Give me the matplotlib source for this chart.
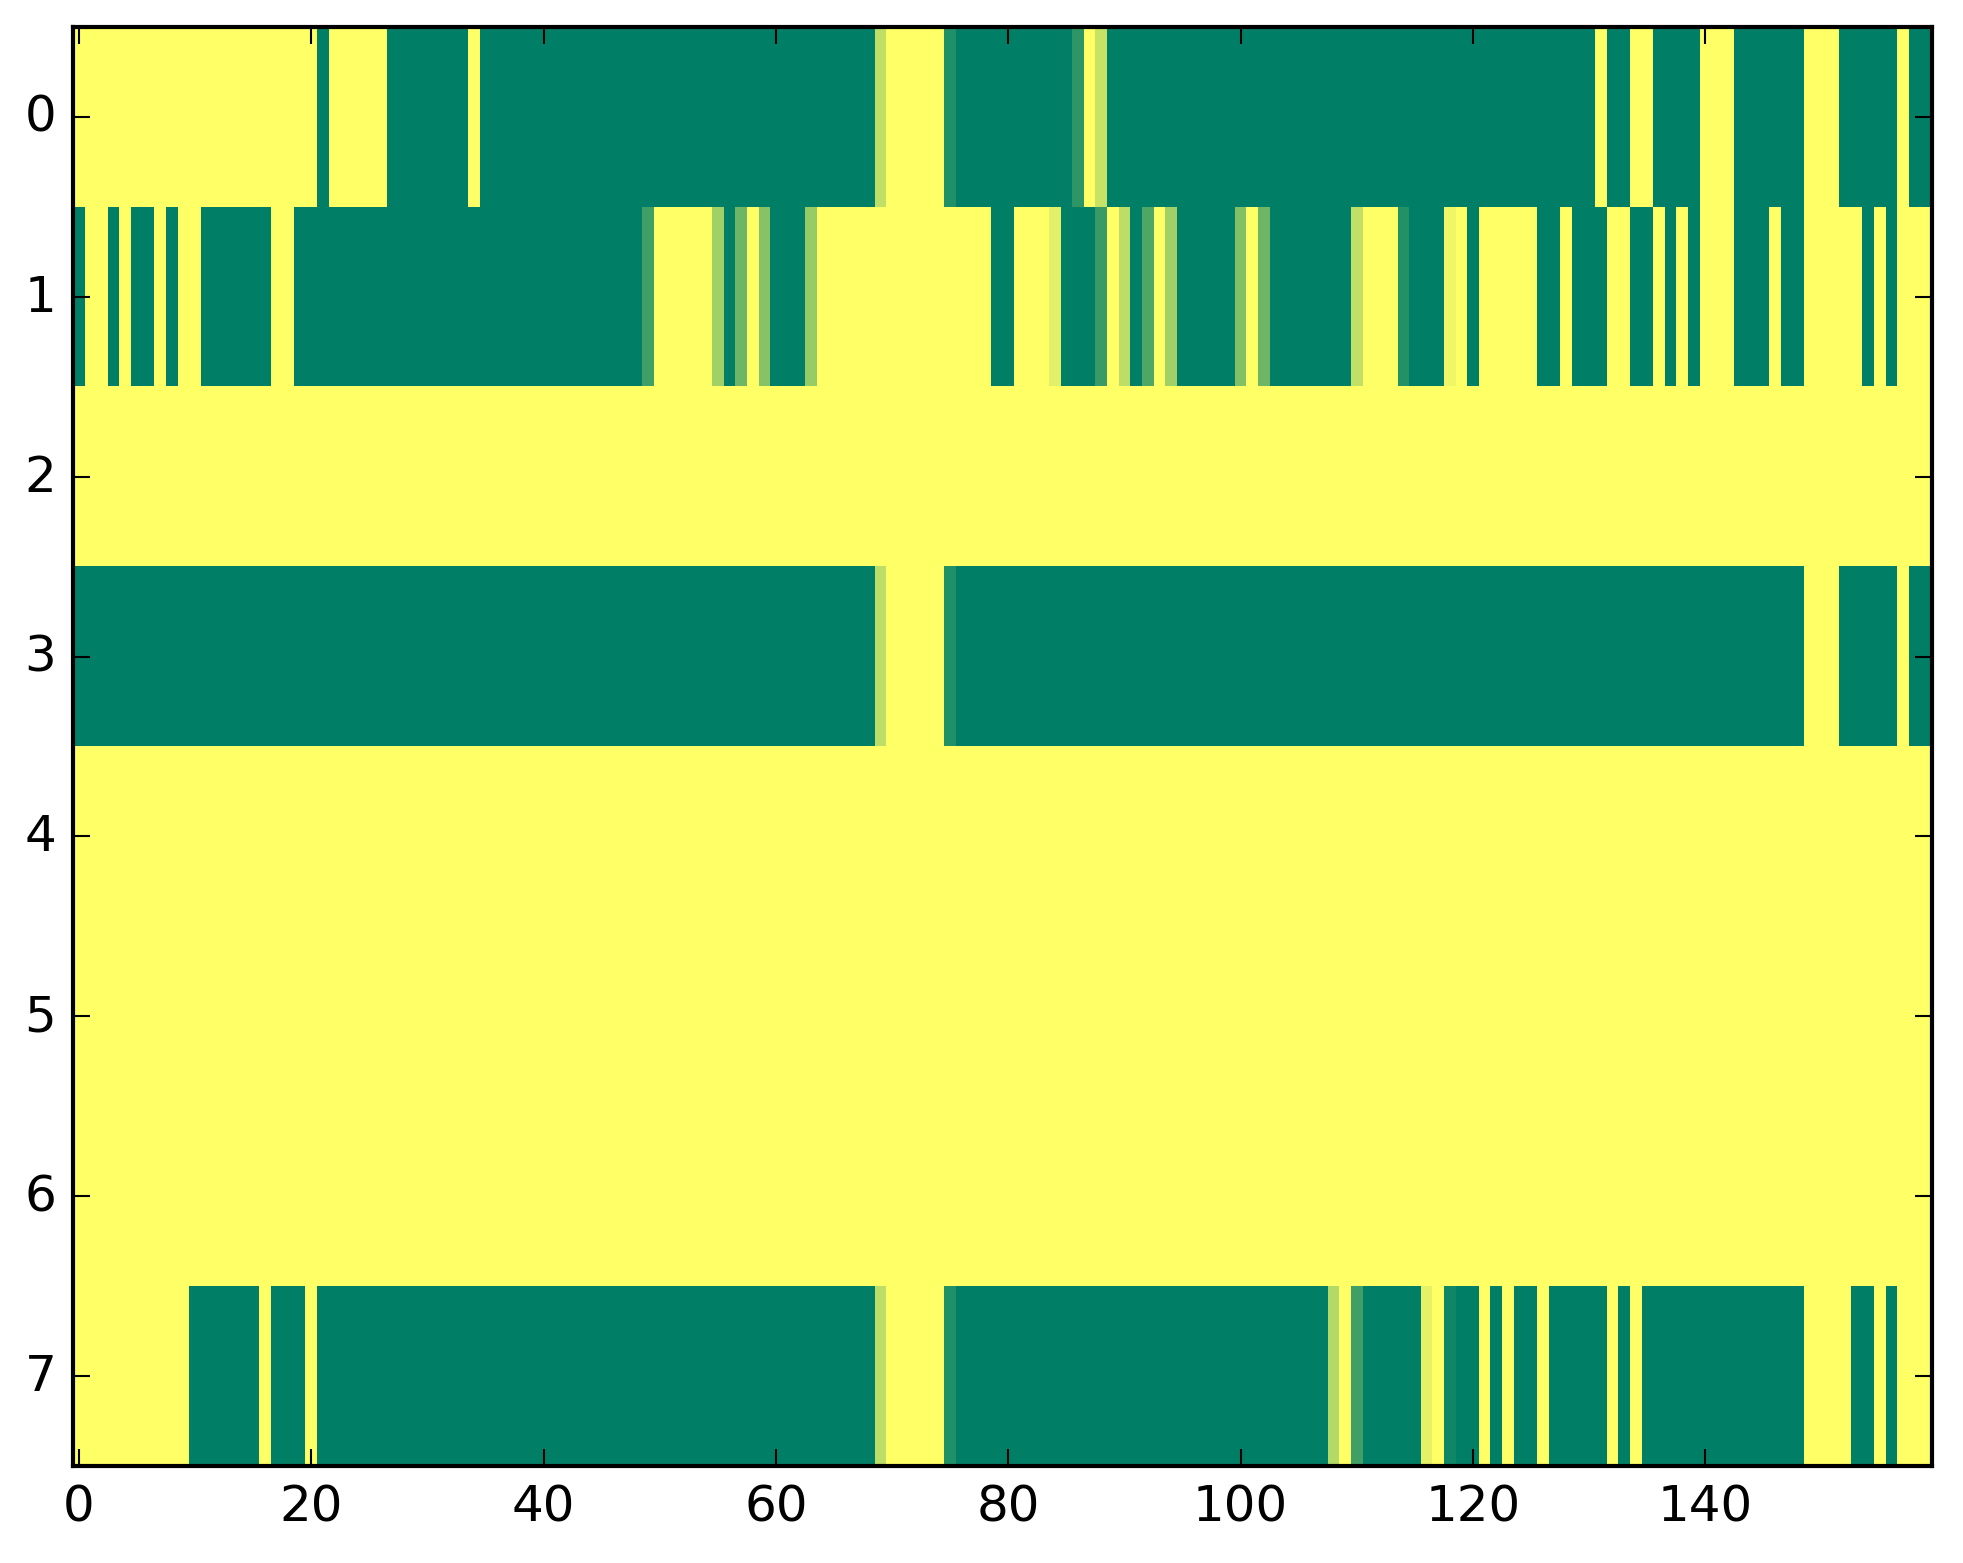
import numpy as np
import matplotlib
matplotlib.use("Agg")
import matplotlib.pyplot as plt

# each row is a list of (value, count) runs, 160 columns
# 0 = green end of "summer", 1 = yellow end, in-between values at transitions
row0_runs = [(1, 21), (0, 1), (1, 5), (0, 7), (1, 1), (0, 34), (0.75, 1), (1, 5),
             (0.13, 1), (0, 10), (0.18, 1), (1, 1), (0.78, 1), (0, 42), (1, 1),
             (0, 2), (1, 2), (0, 4), (1, 3), (0, 6), (1, 3), (0, 5), (1, 1), (0, 2)]
row1_runs = [(0, 1), (1, 2), (0, 1), (1, 1), (0, 2), (1, 1), (0, 1), (1, 2), (0, 6),
             (1, 2), (0, 30), (0.25, 1), (1, 5), (0.63, 1), (0, 1), (0.43, 1),
             (1, 1), (0.53, 1), (0, 3), (0.59, 1), (1, 15), (0, 2), (1, 3),
             (0.88, 1), (0, 3), (0.22, 1), (1, 1), (0.74, 1), (0, 1), (0.31, 1),
             (1, 1), (0.63, 1), (0, 5), (0.51, 1), (1, 1), (0.43, 1), (0, 7),
             (0.76, 1), (1, 3), (0.14, 1), (0, 3), (0.94, 1), (1, 1), (0, 1),
             (1, 5), (0, 2), (1, 1), (0, 3), (1, 2), (0, 2), (1, 1), (0, 1), (1, 1),
             (0, 1), (1, 3), (0, 3), (1, 1), (0, 2), (1, 5), (0, 1), (1, 1), (0, 1),
             (1, 3)]
row2_runs = [(1, 160)]
row3_runs = [(0, 69), (0.74, 1), (1, 5), (0.13, 1), (0, 73), (1, 3), (0, 5),
             (1, 1), (0, 2)]
row4_runs = [(1, 160)]
row5_runs = [(1, 160)]
row6_runs = [(1, 160)]
row7_runs = [(1, 10), (0, 6), (1, 1), (0, 3), (1, 1), (0, 48), (0.74, 1), (1, 5),
             (0.13, 1), (0, 32), (0.7, 1), (1, 1), (0.25, 1), (0, 5), (0.9, 1),
             (1, 1), (0.06, 1), (0, 2), (1, 1), (0, 1), (1, 1), (0, 2), (1, 1),
             (0, 5), (1, 1), (0, 1), (1, 1), (0, 14), (1, 4), (0, 2), (1, 1),
             (0, 1), (1, 3)]

all_runs = [row0_runs, row1_runs, row2_runs, row3_runs,
            row4_runs, row5_runs, row6_runs, row7_runs]

x_ticks = [0, 20, 40, 60, 80, 100, 120, 140]
y_ticks = [0, 1, 2, 3, 4, 5, 6, 7]


def expand(runs):
    vals = [v for v, n in runs]
    counts = [n for v, n in runs]
    out = np.repeat(vals, counts).astype(float)
    assert out.size == 160, out.size
    return out


grid = np.vstack([expand(r) for r in all_runs])

plt.style.use("classic")
plt.rcParams["font.family"] = ["DejaVu Sans"]
plt.rcParams["font.size"] = 12

W, H, DPI = 1963, 1564, 300
fig = plt.figure(figsize=(W / DPI, H / DPI), dpi=DPI, facecolor="white")
ax = fig.add_axes([73 / W, 97 / H, 1859 / W, 1439 / H])

ax.imshow(grid, cmap="summer", vmin=0, vmax=1, aspect="auto",
          interpolation="nearest")

ax.set_xticks(x_ticks)
ax.set_yticks(y_ticks)
ax.set_xlim(-0.5, grid.shape[1] - 0.5)
ax.set_ylim(grid.shape[0] - 0.5, -0.5)
ax.tick_params(direction="in", top=True, right=True)

fig.savefig("out.png", dpi=DPI, facecolor="white")
